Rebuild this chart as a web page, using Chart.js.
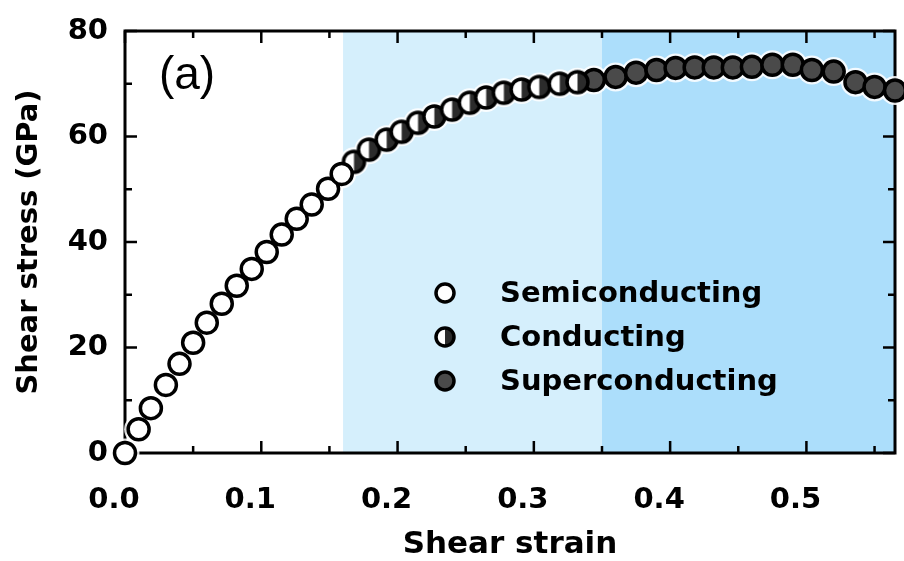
<!DOCTYPE html>
<html>
<head>
<meta charset="utf-8">
<script src="https://cdn.jsdelivr.net/npm/chart.js@4/dist/chart.umd.min.js"></script>
<style>
html,body{margin:0;padding:0;background:#fff;}
#wrap{width:904px;height:561px;position:relative;}
</style>
</head>
<body>
<div id="wrap"><canvas id="c" width="904" height="561"></canvas></div>
<script>
// ---- data ----
const seriesLabels = ['Semiconducting', 'Conducting', 'Superconducting'];

const semiStrain = [0.000, 0.010, 0.019, 0.030, 0.040, 0.050, 0.060, 0.071, 0.082, 0.093, 0.104, 0.115, 0.126, 0.137, 0.149, 0.159];
const semiStress = [0.0, 4.5, 8.5, 12.9, 16.9, 20.9, 24.7, 28.3, 31.7, 34.9, 38.1, 41.4, 44.4, 47.1, 50.1, 52.9];

const condStrain = [0.168, 0.179, 0.192, 0.203, 0.215, 0.227, 0.240, 0.253, 0.265, 0.278, 0.291, 0.304, 0.319, 0.332];
const condStress = [55.2, 57.5, 59.4, 60.9, 62.6, 63.8, 65.1, 66.4, 67.4, 68.3, 68.9, 69.4, 70.0, 70.3];

const superStrain = [0.344, 0.360, 0.375, 0.390, 0.404, 0.418, 0.432, 0.446, 0.460, 0.475, 0.490, 0.504, 0.520, 0.536, 0.550, 0.565];
const superStress = [70.7, 71.3, 72.1, 72.6, 73.0, 73.1, 73.1, 73.1, 73.2, 73.6, 73.6, 72.6, 72.3, 70.3, 69.4, 68.7];

const xMajorTicks = [0.0, 0.1, 0.2, 0.3, 0.4, 0.5];
const xMinorTicks = [0.05, 0.15, 0.25, 0.35, 0.45, 0.55];
const yMajorTicks = [0, 20, 40, 60, 80];
const yMinorTicks = [10, 30, 50, 70];

const bandEdges = [0.16, 0.35, 0.565];   // conducting band, superconducting band
const panelLabel = '(a)';

// ---- styles ----
const FONT = '"DejaVu Sans", Verdana, sans-serif';
const bandColors = ['#d5effc', '#acdefb'];
const kinds = ['open', 'half', 'filled'];

function drawMarker(ctx, x, y, r, kind, lw) {
  ctx.save();
  ctx.beginPath();
  ctx.arc(x, y, r, 0, Math.PI * 2);
  ctx.fillStyle = kind === 'filled' ? '#4a4a4a' : '#ffffff';
  ctx.fill();
  if (kind === 'half') {
    ctx.beginPath();
    ctx.arc(x, y, r, -Math.PI / 2, Math.PI / 2);
    ctx.closePath();
    ctx.fillStyle = '#2b2b2b';
    ctx.fill();
  }
  ctx.beginPath();
  ctx.arc(x, y, r, 0, Math.PI * 2);
  ctx.lineWidth = lw;
  ctx.strokeStyle = '#000';
  ctx.stroke();
  ctx.restore();
}

function markerImage(r, kind, lw) {
  const s = Math.ceil(2 * r + lw + 2);
  const cv = document.createElement('canvas');
  cv.width = s; cv.height = s;
  drawMarker(cv.getContext('2d'), s / 2, s / 2, r, kind, lw);
  return cv;
}

const PR = 10.5, PLW = 3.5;
const condImg = markerImage(PR, 'half', PLW);

const toPoints = (xs, ys) => xs.map((x, i) => ({x: x, y: ys[i]}));

const baseDs = {showLine: false, clip: false, borderColor: '#000', borderWidth: PLW,
  pointRadius: PR, pointHoverRadius: PR, pointHitRadius: PR};

const decorPlugin = {
  id: 'decor',
  beforeDatasetsDraw(chart) {
    const {ctx, chartArea: a, scales: {x, y}} = chart;
    ctx.save();
    // shaded bands
    for (let i = 0; i < bandEdges.length - 1; i++) {
      const x0 = x.getPixelForValue(bandEdges[i]);
      const x1 = x.getPixelForValue(bandEdges[i + 1]);
      ctx.fillStyle = bandColors[i];
      ctx.fillRect(x0, a.top, x1 - x0, a.bottom - a.top);
    }
    // frame
    ctx.strokeStyle = '#000';
    ctx.lineWidth = 3;
    ctx.strokeRect(a.left, a.top, a.right - a.left, a.bottom - a.top);
    // inward ticks on all four sides
    ctx.lineWidth = 2.5;
    const tick = (vals, len) => {
      vals.forEach(v => {
        const px = x.getPixelForValue(v);
        ctx.beginPath();
        ctx.moveTo(px, a.bottom); ctx.lineTo(px, a.bottom - len);
        ctx.moveTo(px, a.top); ctx.lineTo(px, a.top + len);
        ctx.stroke();
      });
    };
    const ytick = (vals, len) => {
      vals.forEach(v => {
        const py = y.getPixelForValue(v);
        ctx.beginPath();
        ctx.moveTo(a.left, py); ctx.lineTo(a.left + len, py);
        ctx.moveTo(a.right, py); ctx.lineTo(a.right - len, py);
        ctx.stroke();
      });
    };
    tick(xMajorTicks, 12); tick(xMinorTicks, 7);
    ytick(yMajorTicks, 12); ytick(yMinorTicks, 7);
    // white halo under the markers (as in the reference)
    ctx.fillStyle = 'rgba(255,255,255,0.85)';
    chart.data.datasets.forEach((ds, i) => {
      chart.getDatasetMeta(i).data.forEach(pt => {
        ctx.beginPath();
        ctx.arc(pt.x, pt.y, PR + 4, 0, Math.PI * 2);
        ctx.fill();
      });
    });
    ctx.restore();
  },
  afterDraw(chart) {
    const {ctx, chartArea: a} = chart;
    ctx.save();
    // panel label
    ctx.fillStyle = '#000';
    ctx.font = '46px "Liberation Sans", Arial, sans-serif';
    ctx.textAlign = 'center';
    ctx.textBaseline = 'middle';
    ctx.fillText(panelLabel, a.left + 62, a.top + 45);
    // legend inside the plot
    const lx = a.left + 320, ly0 = a.top + 262, dy = 44;
    ctx.font = 'bold 29px ' + FONT;
    ctx.textAlign = 'left';
    chart.data.datasets.forEach((ds, i) => {
      const yy = ly0 + i * dy;
      drawMarker(ctx, lx, yy, 9, kinds[i], 3.5);
      ctx.fillStyle = '#000';
      ctx.fillText(ds.label, lx + 55, yy + 1);
    });
    ctx.restore();
  }
};

new Chart(document.getElementById('c'), {
  type: 'scatter',
  data: {
    datasets: [
      Object.assign({}, baseDs, {label: seriesLabels[0], data: toPoints(semiStrain, semiStress),
        pointStyle: 'circle', backgroundColor: '#ffffff'}),
      Object.assign({}, baseDs, {label: seriesLabels[1], data: toPoints(condStrain, condStress),
        pointStyle: condImg, backgroundColor: '#ffffff'}),
      Object.assign({}, baseDs, {label: seriesLabels[2], data: toPoints(superStrain, superStress),
        pointStyle: 'circle', backgroundColor: '#4a4a4a'})
    ]
  },
  options: {
    responsive: false,
    animation: false,
    devicePixelRatio: 1,
    layout: {autoPadding: false, padding: {left: 0, right: 9, top: 31, bottom: 0}},
    plugins: {legend: {display: false}, tooltip: {enabled: false}},
    scales: {
      x: {
        type: 'linear', min: 0, max: 0.565,
        afterBuildTicks: s => { s.ticks = xMajorTicks.map(v => ({value: v})); },
        afterFit: s => { s.height = 108; s.paddingLeft = 0; s.paddingRight = 0; },
        grid: {display: false, drawTicks: false},
        border: {display: false},
        ticks: {
          color: '#000', padding: 30, labelOffset: -11, maxRotation: 0, autoSkip: false,
          font: {family: FONT, weight: 'bold', size: 29},
          callback: v => Number(v).toFixed(1)
        },
        title: {display: true, text: 'Shear strain', color: '#000',
          font: {family: FONT, weight: 'bold', size: 31}, padding: {top: 0, bottom: -3}}
      },
      y: {
        type: 'linear', min: 0, max: 80,
        afterBuildTicks: s => { s.ticks = yMajorTicks.map(v => ({value: v})); },
        afterFit: s => { s.width = 125; s.paddingTop = 0; s.paddingBottom = 0; },
        grid: {display: false, drawTicks: false},
        border: {display: false},
        ticks: {
          color: '#000', padding: 17,
          font: {family: FONT, weight: 'bold', size: 29},
          callback: v => String(v)
        },
        title: {display: true, text: 'Shear stress (GPa)', color: '#000',
          font: {family: FONT, weight: 'bold', size: 29}, padding: {top: 12, bottom: 0}}
      }
    }
  },
  plugins: [decorPlugin]
});
</script>
</body>
</html>
